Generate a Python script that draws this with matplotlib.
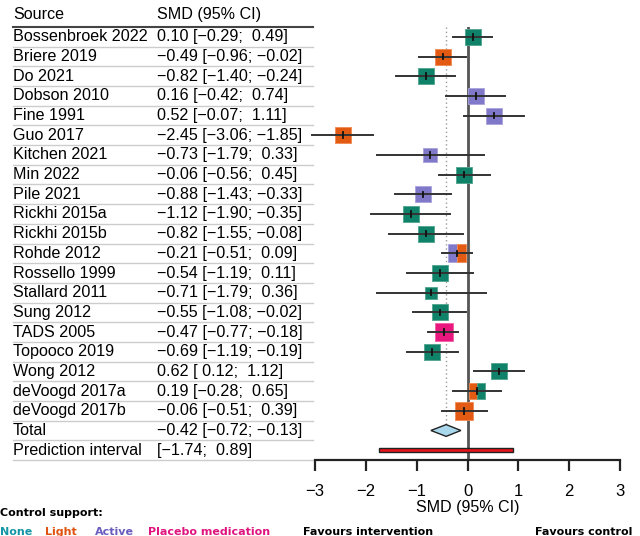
import matplotlib

matplotlib.use("Agg")
import matplotlib.pyplot as plt
from matplotlib.path import Path as MPath
from matplotlib.patches import Polygon, Rectangle
from matplotlib.transforms import blended_transform_factory

plt.rcParams["font.family"] = ["Liberation Sans", "DejaVu Sans"]

studies = [
    "Bossenbroek 2022", "Briere 2019", "Do 2021", "Dobson 2010", "Fine 1991",
    "Guo 2017", "Kitchen 2021", "Min 2022", "Pile 2021", "Rickhi 2015a",
    "Rickhi 2015b", "Rohde 2012", "Rossello 1999", "Stallard 2011", "Sung 2012",
    "TADS 2005", "Topooco 2019", "Wong 2012", "deVoogd 2017a", "deVoogd 2017b",
]
smd = [0.10, -0.49, -0.82, 0.16, 0.52, -2.45, -0.73, -0.06, -0.88, -1.12,
       -0.82, -0.21, -0.54, -0.71, -0.55, -0.47, -0.69, 0.62, 0.19, -0.06]
ci_low = [-0.29, -0.96, -1.40, -0.42, -0.07, -3.06, -1.79, -0.56, -1.43, -1.90,
          -1.55, -0.51, -1.19, -1.79, -1.08, -0.77, -1.19, 0.12, -0.28, -0.51]
ci_high = [0.49, -0.02, -0.24, 0.74, 1.11, -1.85, 0.33, 0.45, -0.33, -0.35,
           -0.08, 0.09, 0.11, 0.36, -0.02, -0.18, -0.19, 1.12, 0.65, 0.39]
# control support per study: (left half, right half)
support = [
    ("None", "None"), ("Light", "Light"), ("None", "None"), ("Active", "Active"),
    ("Active", "Active"), ("Light", "Light"), ("Active", "Active"), ("None", "None"),
    ("Active", "Active"), ("None", "None"), ("None", "None"), ("Active", "Light"),
    ("None", "None"), ("None", "None"), ("None", "None"), ("Placebo", "Placebo"),
    ("None", "None"), ("None", "None"), ("Light", "None"), ("Light", "Light"),
]
# relative study weight shown as box width (pixels)
box_px = [16, 16, 15.3, 15.7, 15.7, 15.3, 12.7, 15.7, 15.3, 15.0,
          15.3, 16.7, 15.0, 12.3, 16.0, 17.0, 16.0, 16.0, 15.7, 16.3]

total_est, total_low, total_high = -0.42, -0.72, -0.13
pred_low, pred_high = -1.74, 0.89
x_ticks = [-3, -2, -1, 0, 1, 2, 3]

box_colors = {"None": "#10826a", "Light": "#e35a12", "Active": "#8078c8", "Placebo": "#e8187f"}
edge_colors = {"None": "#4fa58d", "Light": "#f08a50", "Active": "#a9a3dc", "Placebo": "#f060a8"}
legend_colors = [("None", "#1596a6"), ("Light", "#e0520f"), ("Active", "#6a5cbf"),
                 ("Placebo medication", "#e0147f")]

W, H = 640, 536
fig = plt.figure(figsize=(W / 100, H / 100), dpi=100)
ax = fig.add_axes([315 / W, 76 / H, 305 / W, 433 / H])

n = len(studies)
rows = list(range(1, n + 1))
total_row = n + 1
pred_row = n + 2

ax.set_xlim(-3, 3)
ax.set_ylim(pred_row + 0.5, 0.5)
for side in ("top", "left", "right"):
    ax.spines[side].set_visible(False)
ax.spines["bottom"].set_linewidth(1.6)
ax.spines["bottom"].set_color("#222222")
ax.set_yticks([])
ax.set_xticks(x_ticks)
ax.set_xticklabels(["\u22123", "\u22122", "\u22121", "0", "1", "2", "3"])
ax.tick_params(axis="x", length=8, width=1.6, color="#222222", labelsize=12, pad=9)
ax.set_xlabel("SMD (95% CI)", fontsize=11.5, labelpad=1)

# reference lines
ax.plot([0, 0], [0.5, pred_row + 0.5], color="#555555", lw=2, zorder=1)
ax.plot([total_est, total_est], [0.5, total_row - 0.3], color="#999999", lw=1,
        ls=(0, (1, 2)), zorder=1)

full_sq = MPath([(-1, -1), (1, -1), (1, 1), (-1, 1), (-1, -1)])
left_sq = MPath([(-1, -1), (0, -1), (0, 1), (-1, 1), (-1, -1)])
right_sq = MPath([(0, -1), (1, -1), (1, 1), (0, 1), (0, -1)])

for y, est, lo, hi, (c_left, c_right), px in zip(rows, smd, ci_low, ci_high, support, box_px):
    size = (px * 0.72 * 1.05) ** 2
    if c_left == c_right:
        ax.scatter([est], [y], marker=full_sq, s=size, color=box_colors[c_left],
                   edgecolor=edge_colors[c_left], linewidth=0.6, zorder=2)
    else:
        ax.scatter([est], [y], marker=left_sq, s=size, color=box_colors[c_left],
                   edgecolor=edge_colors[c_left], linewidth=0.6, zorder=2)
        ax.scatter([est], [y], marker=right_sq, s=size, color=box_colors[c_right],
                   edgecolor=edge_colors[c_right], linewidth=0.6, zorder=2)
    ax.plot([lo, hi], [y, y], color="#333333", lw=1.4, zorder=3, clip_on=False)
    ax.plot([est, est], [y - 0.14, y + 0.14], color="#111111", lw=1.3, zorder=4)

diamond = Polygon(
    [(total_low, total_row), (total_est, total_row - 0.3), (total_high, total_row),
     (total_est, total_row + 0.3)],
    closed=True, facecolor="#a9d8ec", edgecolor="#222222", lw=1, zorder=3,
)
ax.add_patch(diamond)
ax.add_patch(Rectangle((pred_low, pred_row - 0.11), pred_high - pred_low, 0.22,
                       facecolor="#e8141b", edgecolor="#222222", lw=1, zorder=3))

# table on the left
tr = blended_transform_factory(fig.transFigure, ax.transData)
x_src, x_smd, x_rule0, x_rule1 = 13 / W, 157 / W, 13 / W, 313 / W
fs = 11.6

ax.text(x_src, -0.15, "Source", transform=tr, fontsize=fs, va="center", clip_on=False)
ax.text(x_smd, -0.15, "SMD (95% CI)", transform=tr, fontsize=fs, va="center", clip_on=False)
ax.plot([x_rule0, x_rule1], [0.5, 0.5], transform=tr, color="#444444", lw=1.5, clip_on=False)


def fmt(v):
    s = f"{abs(v):.2f}"
    return ("\u2212" + s) if v < 0 else s


def fmt_ci(v):
    return fmt(v) if v < 0 else " " + fmt(v)


labels = studies + ["Total", "Prediction interval"]
values = [f"{fmt(e)} [{fmt_ci(l)}; {fmt_ci(h)}]" for e, l, h in zip(smd, ci_low, ci_high)]
values.append(f"{fmt(total_est)} [{fmt_ci(total_low)}; {fmt_ci(total_high)}]")
values.append(f"[{fmt_ci(pred_low)}; {fmt_ci(pred_high)}]")
for i, (lab, val) in enumerate(zip(labels, values)):
    y = i + 1
    ax.text(x_src, y, lab, transform=tr, fontsize=fs, va="center", clip_on=False)
    ax.text(x_smd, y, val, transform=tr, fontsize=fs, va="center", clip_on=False)
    ax.plot([x_rule0, x_rule1], [y + 0.5, y + 0.5], transform=tr, color="#cccccc",
            lw=1, clip_on=False)

# legend and direction labels
fig.text(0 / W, 1 - 513 / H, "Control support:", fontsize=8, fontweight="bold",
         family="DejaVu Sans", va="center")
legend_x = [0, 45, 95, 148]
for (name, col), lx in zip(legend_colors, legend_x):
    fig.text(lx / W, 1 - 532 / H, name, fontsize=8, fontweight="bold", color=col,
             family="DejaVu Sans", va="center")
fig.text(303 / W, 1 - 532 / H, "Favours intervention", fontsize=8, fontweight="bold",
         family="DejaVu Sans", va="center")
fig.text(632 / W, 1 - 532 / H, "Favours control", fontsize=8, fontweight="bold",
         family="DejaVu Sans", va="center", ha="right")

fig.savefig("out.png", dpi=100)
